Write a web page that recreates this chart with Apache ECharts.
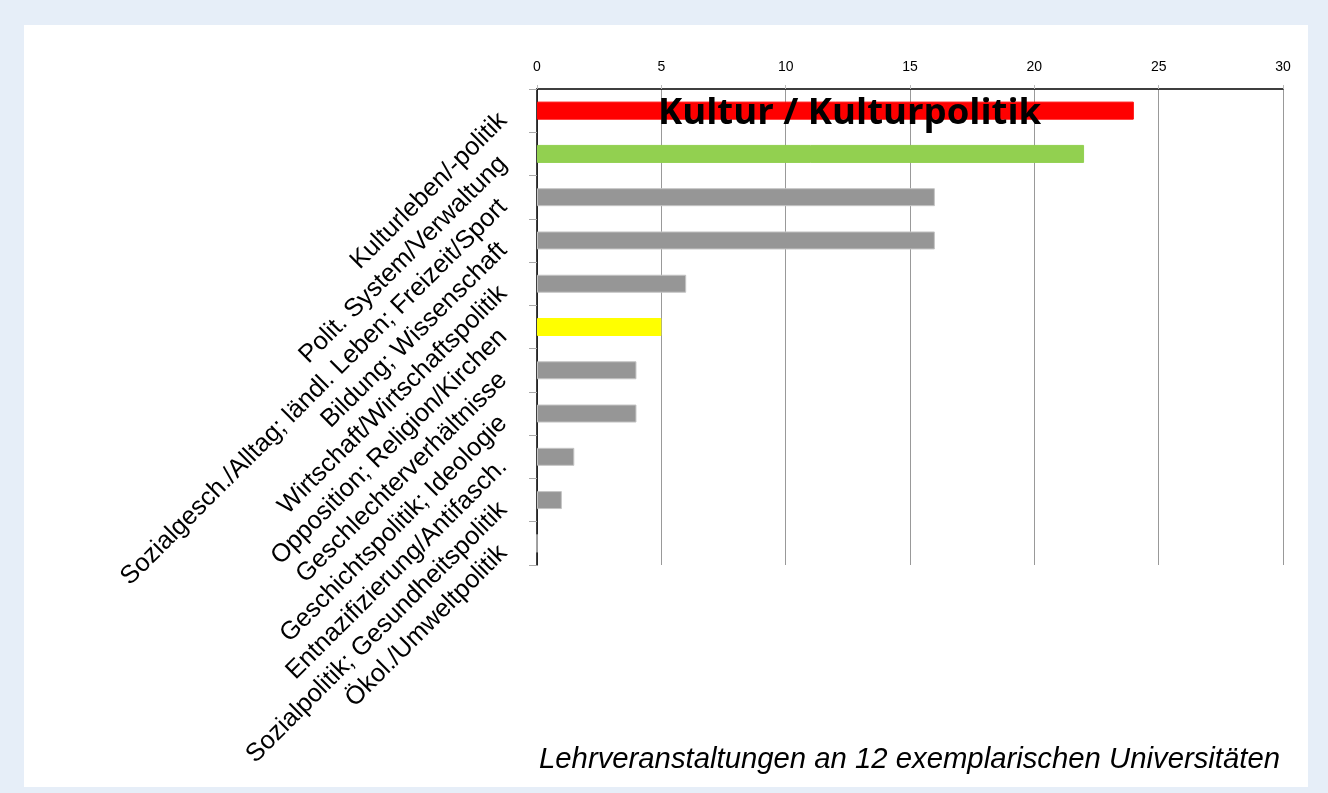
<!DOCTYPE html>
<html>
<head>
<meta charset="utf-8">
<script src="https://cdn.jsdelivr.net/npm/echarts@6/dist/echarts.min.js"></script>
<style>
  html, body { margin: 0; padding: 0; background: #fff; }
  #chart { width: 1328px; height: 793px; }
</style>
</head>
<body>
<div id="chart"></div>
<script>
// Themen (von oben nach unten)
var categories = [
  'Kulturleben/-politik',
  'Polit. System/Verwaltung',
  'Sozialgesch./Alltag; ländl. Leben; Freizeit/Sport',
  'Bildung; Wissenschaft',
  'Wirtschaft/Wirtschaftspolitik',
  'Opposition; Religion/Kirchen',
  'Geschlechterverhältnisse',
  'Geschichtspolitik; Ideologie',
  'Entnazifizierung/Antifasch.',
  'Sozialpolitik; Gesundheitspolitik',
  'Ökol./Umweltpolitik'
]
var values = [24, 22, 16, 16, 6, 5, 4, 4, 1.5, 1, 0]
var barColors = ['#ff0000', '#92d050', '#969696', '#969696', '#969696', '#ffff00', '#969696', '#969696', '#969696', '#969696', '#969696']
var xTicks = [0, 5, 10, 15, 20, 25, 30]

var chart = echarts.init(document.getElementById('chart'))

var option = {
  backgroundColor: '#e6eef8',
  animation: false,
  graphic: [
    {
      type: 'rect',
      z: -10,
      shape: { x: 24, y: 25, width: 1284, height: 762 },
      style: { fill: '#ffffff' }
    },
    {
      type: 'text',
      right: 48,
      top: 745,
      style: {
        text: 'Lehrveranstaltungen an 12 exemplarischen Universitäten',
        font: 'italic 29.3px "Liberation Sans", Arial, sans-serif',
        fill: '#000'
      }
    }
  ],
  title: {
    text: 'Kultur / Kulturpolitik',
    left: 658,
    top: 95,
    padding: 0,
    textStyle: {
      fontFamily: '"Open Sans", sans-serif',
      fontWeight: 'bold',
      fontSize: 36.5,
      color: '#000'
    }
  },
  grid: {
    left: 537,
    right: 45,
    top: 89,
    height: 476
  },
  xAxis: {
    type: 'value',
    position: 'top',
    min: xTicks[0],
    max: xTicks[xTicks.length - 1],
    interval: 5,
    axisLine: { show: true, lineStyle: { color: '#000', width: 1.5 } },
    axisTick: { show: true, length: 4, lineStyle: { color: '#bbb' } },
    axisLabel: {
      margin: 15,
      color: '#000',
      fontSize: 14,
      fontFamily: '"Liberation Sans", Arial, sans-serif'
    },
    splitLine: { show: true, lineStyle: { color: '#999', width: 1 } }
  },
  yAxis: {
    type: 'category',
    inverse: true,
    data: categories,
    axisLine: { show: true, lineStyle: { color: '#000', width: 1.5 } },
    axisTick: { show: true, length: 8, lineStyle: { color: '#aaa' } },
    axisLabel: {
      interval: 0,
      hideOverlap: false,
      rotate: 45,
      margin: 40,
      verticalAlign: 'top',
      lineHeight: 17,
      color: '#000',
      fontSize: 25.5,
      fontFamily: '"Liberation Sans", Arial, sans-serif'
    }
  },
  series: [
    {
      type: 'bar',
      barWidth: 18,
      data: values.map(function (v, i) {
        return {
          value: v,
          itemStyle: {
            color: barColors[i],
            borderColor: barColors[i] === '#969696' ? '#c4c4c4' : barColors[i],
            borderWidth: 1
          }
        }
      })
    }
  ]
}

chart.setOption(option)
</script>
</body>
</html>
